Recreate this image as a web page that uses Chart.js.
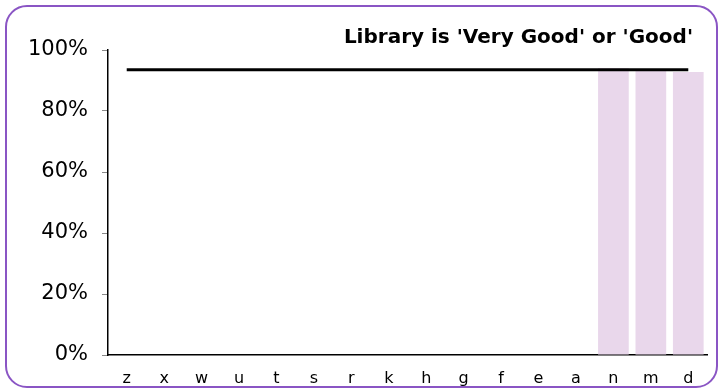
<!DOCTYPE html>
<html lang="en">
<head>
  <meta charset="UTF-8">
  <title>Library is 'Very Good' or 'Good'</title>
  <script src="https://cdn.jsdelivr.net/npm/chart.js"></script>
  <style>
    html, body { margin: 0; padding: 0; background: #fff; }
    #frame {
      position: absolute; left: 5px; top: 5px;
      width: 709px; height: 379px;
      border: 2px solid #8a55c4; border-radius: 22px;
      overflow: hidden;
    }
    #chart { display: block; }
  </style>
</head>
<body>
  <div id="frame"><canvas id="chart" width="709" height="379"></canvas></div>

  <script>
    // categories and values
    const categories = ["z", "x", "w", "u", "t", "s", "r", "k", "h", "g", "f", "e", "a", "n", "m", "d"];
    const libraryScores = [null, null, null, null, null, null, null, null, null, null, null, null, null, 94.1, 93.1, 92.8];
    const benchmark = [93.5, 93.5, 93.5, 93.5, 93.5, 93.5, 93.5, 93.5, 93.5, 93.5, 93.5, 93.5, 93.5, 93.5, 93.5, 93.5];
    const yTicks = [0, 20, 40, 60, 80, 100];
    const chartTitle = "Library is 'Very Good' or 'Good'";

    // title sits a little inside the right edge of the plot
    const cornerTitle = {
      id: "cornerTitle",
      afterDraw(chart) {
        const c = chart.ctx;
        c.save();
        c.font = "bold 20px 'DejaVu Sans'";
        c.fillStyle = "#000";
        c.textAlign = "right";
        c.textBaseline = "alphabetic";
        c.fillText(chartTitle, chart.chartArea.right - 14, 36);
        c.restore();
      }
    };

    const ctx = document.getElementById("chart").getContext("2d");

    new Chart(ctx, {
      type: "bar",
      data: {
        labels: categories,
        datasets: [
          {
            type: "line",
            data: benchmark,
            borderColor: "#000",
            borderWidth: 3,
            pointRadius: 0,
            fill: false,
            order: 0
          },
          {
            data: libraryScores,
            backgroundColor: "#e9d7eb",
            barPercentage: 0.82,
            categoryPercentage: 1,
            order: 1
          }
        ]
      },
      options: {
        responsive: false,
        animation: false,
        layout: { padding: { left: 0, right: 9, top: 43, bottom: 0 } },
        plugins: {
          legend: { display: false },
          tooltip: { enabled: false },
          title: { display: false }
        },
        scales: {
          x: {
            grid: { display: false },
            border: { display: true, color: "#000", width: 1.5 },
            ticks: {
              color: "#000",
              padding: 6,
              maxRotation: 0,
              font: { family: "DejaVu Sans", size: 16 }
            },
            afterFit: (s) => { s.height = 379 - 348; }
          },
          y: {
            min: 0,
            max: 100,
            afterBuildTicks: (s) => { s.ticks = yTicks.map(v => ({ value: v })); },
            grid: {
              drawOnChartArea: false,
              drawTicks: true,
              tickLength: 6,
              tickColor: "#888",
              color: "#888"
            },
            border: { display: true, color: "#000", width: 1.5 },
            ticks: {
              color: "#000",
              padding: 14,
              font: { family: "DejaVu Sans", size: 21 },
              callback: (v) => v + "%"
            },
            afterFit: (s) => { s.width = 101; }
          }
        }
      },
      plugins: [cornerTitle]
    });
  </script>
</body>
</html>
